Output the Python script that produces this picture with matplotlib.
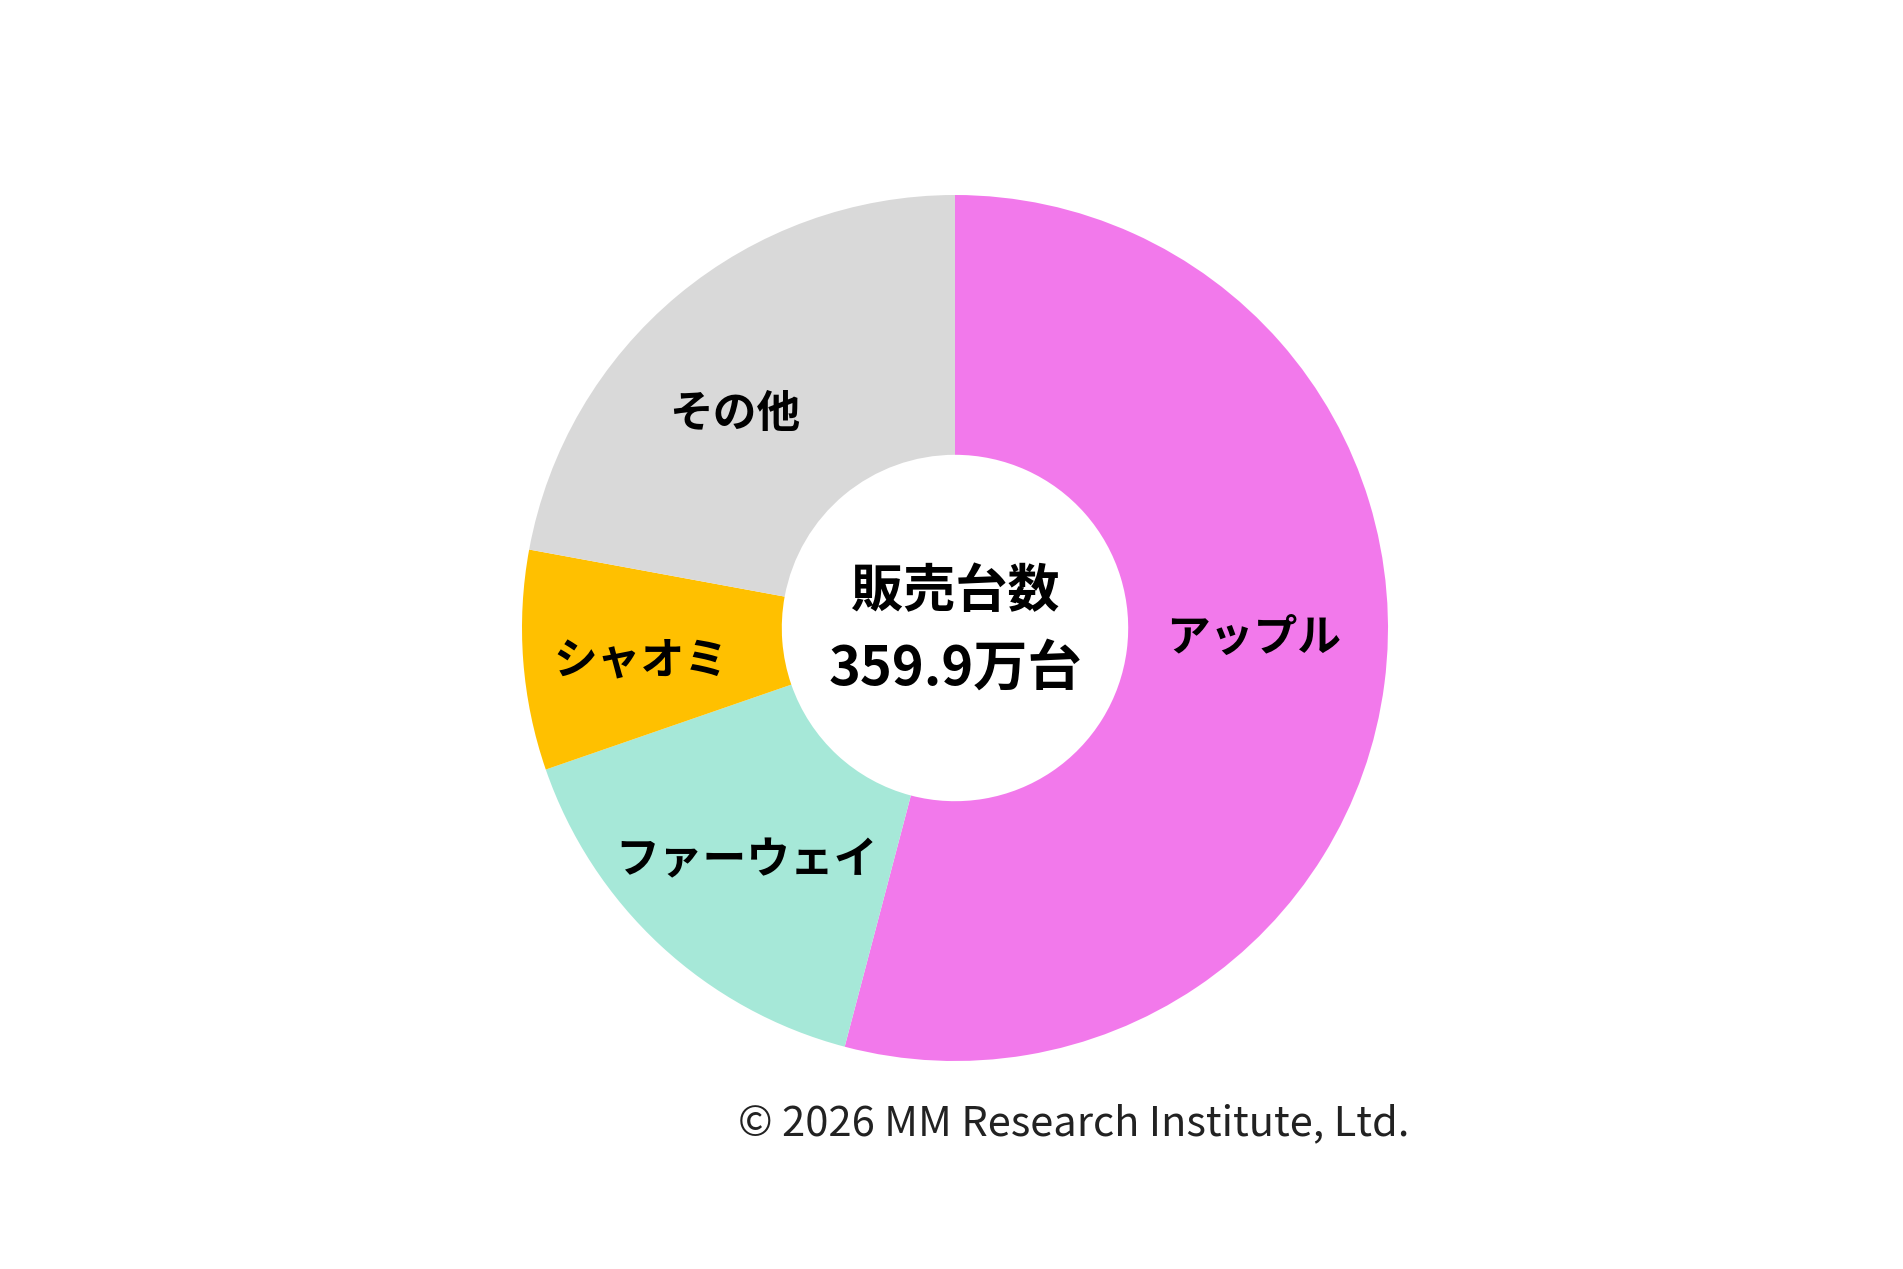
import numpy as np
import matplotlib.pyplot as plt

plt.rcParams['font.family'] = ['Noto Sans CJK JP', 'DejaVu Sans']

# share of units sold (%), clockwise from 12 o'clock
brands = ["アップル", "ファーウェイ", "シャオミ", "その他"]
shares = [54.1, 15.6, 8.2, 22.1]
colors = ["#F279EB", "#A6E8D8", "#FFC000", "#D9D9D9"]
center_title = "販売台数"
center_value = "359.9万台"
credit = "© 2026 MM Research Institute, Ltd."

# small angular nudges (deg, counter-clockwise) so labels sit like the original
nudge = [5.5, 1.0, 1.5, 6.0]
label_r = [0.69, 0.72, 0.73, 0.71]

W, H = 1903, 1269
cx, cy, R = 955, 628, 433

fig = plt.figure(figsize=(W / 100, H / 100), dpi=100)
ax = fig.add_axes([(cx - R) / W, (H - cy - R) / H, 2 * R / W, 2 * R / H])

hole = 0.4
ax.pie(shares, colors=colors, startangle=90, counterclock=False, radius=1,
       wedgeprops=dict(width=1 - hole, edgecolor='none'))
ax.set_xlim(-1, 1)
ax.set_ylim(-1, 1)
ax.axis('off')

# labels in the middle of each ring segment
cum = np.cumsum([0] + shares)
for name, a, b, dn, r in zip(brands, cum[:-1], cum[1:], nudge, label_r):
    theta = np.deg2rad(90 - (a + b) / 2 * 3.6 + dn)
    ax.text(r * np.cos(theta), r * np.sin(theta), name,
            ha='center', va='center', fontsize=31.5, fontweight='bold')

ax.text(0, 0.085, center_title, ha='center', va='center', fontsize=37.5, fontweight='bold')
ax.text(0, -0.095, center_value, ha='center', va='center', fontsize=39, fontweight='bold')

fig.text(1074 / W, 1 - 1124 / H, credit, ha='center', va='center', fontsize=30, color='#222222')

fig.savefig("out.png", dpi=100, facecolor='white')
